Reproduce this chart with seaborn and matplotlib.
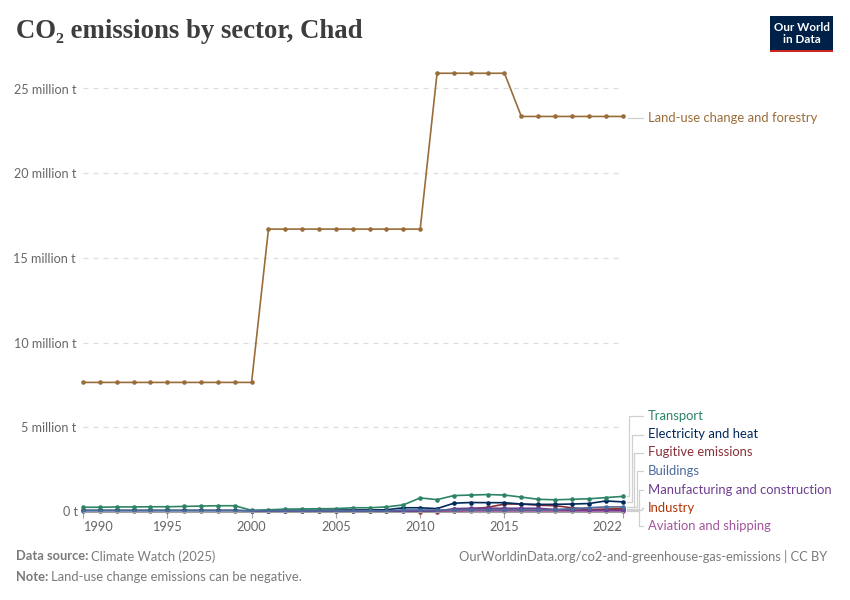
import matplotlib.pyplot as plt
from matplotlib.patches import Rectangle
import pandas as pd
import seaborn as sns

years = list(range(1990, 2023))
nan = float("nan")

# million tonnes
lucf = [7.65] * 11 + [16.7] * 10 + [25.9] * 5 + [23.35] * 7
transport = [0.28, 0.28, 0.30, 0.30, 0.31, 0.31, 0.33, 0.35, 0.37, 0.37, 0.10, 0.13, 0.17, 0.18, 0.19, 0.20,
             0.25, 0.25, 0.30, 0.42, 0.83, 0.73, 0.97, 1.00, 1.03, 1.00, 0.88, 0.75, 0.72, 0.75, 0.78, 0.85, 0.92]
electricity = [0.10] * 10 + [0.07, 0.08, 0.10, 0.10, 0.10, 0.11, 0.12, 0.12, 0.13, 0.25,
               0.25, 0.20, 0.52, 0.56, 0.55, 0.55, 0.47, 0.45, 0.45, 0.47, 0.50, 0.65, 0.60]
fugitive = [nan] * 22 + [0.15, 0.20, 0.27, 0.47, 0.47, 0.40, 0.37, 0.25, 0.15, 0.15, 0.15]
buildings = [0.07] * 19 + [0.12] * 9 + [0.14, 0.20, 0.25, 0.30, 0.30]
manufacturing = [nan] * 10 + [0.05] * 12 + [0.20, 0.22, 0.22, 0.22, 0.22, 0.22, 0.15, 0.10, 0.10, 0.10, 0.10]
industry = [nan] * 20 + [0.01, 0.01, 0.03, 0.10, 0.10, 0.10, 0.10, 0.10, 0.10, 0.10, 0.12, 0.17, 0.20]
aviation = [nan] * 10 + [0.05] * 23

series = {
    "Industry": industry,
    "Fugitive emissions": fugitive,
    "Electricity and heat": electricity,
    "Transport": transport,
    "Aviation and shipping": aviation,
    "Manufacturing and construction": manufacturing,
    "Buildings": buildings,
    "Land-use change and forestry": lucf,
}
colors = {
    "Land-use change and forestry": "#996D39",
    "Transport": "#2C8465",
    "Electricity and heat": "#00295B",
    "Fugitive emissions": "#883039",
    "Buildings": "#4C6A9C",
    "Manufacturing and construction": "#6D3E91",
    "Industry": "#B13507",
    "Aviation and shipping": "#A2559C",
}
y_ticks = [5, 10, 15, 20, 25]
y_labels = ["5 million t", "10 million t", "15 million t", "20 million t", "25 million t"]
x_ticks = [1990, 1995, 2000, 2005, 2010, 2015, 2022]

df = pd.DataFrame([
    {"year": y, "sector": name, "value": v}
    for name, vals in series.items() for y, v in zip(years, vals)
]).dropna()

W, H = 850, 600
plt.rcParams["font.family"] = ["Lato", "DejaVu Sans"]
fig = plt.figure(figsize=(W / 100, H / 100), dpi=100)
top_px, bottom_px, left_px, right_px = 70, 512, 83, 622.5
ax = fig.add_axes([left_px / W, 1 - bottom_px / H, (right_px - left_px) / W, (bottom_px - top_px) / H])

sns.lineplot(data=df, x="year", y="value", hue="sector", hue_order=list(series), palette=colors,
             marker="o", markersize=3.3, markeredgewidth=0, linewidth=1.2, legend=False,
             clip_on=False, ax=ax)

ax.set_xlim(1990, 2022)
ax.set_ylim(0, (bottom_px - top_px) / 16.94)
ax.set_xlabel("")
ax.set_ylabel("")
for s in ["top", "right", "left"]:
    ax.spines[s].set_visible(False)
ax.spines["bottom"].set_color("#a1a1a1")
ax.spines["bottom"].set_linewidth(0.8)
ax.set_axisbelow(True)

ax.set_yticks(y_ticks)
ax.set_yticklabels(y_labels, fontsize=9.1, color="#666666")
ax.tick_params(axis="y", length=0, pad=5)
ax.grid(axis="y", color="#dddddd", linewidth=0.9, linestyle=(0, (4, 4)))
ax.text(-5 / (right_px - left_px), 0, "0 t", transform=ax.get_yaxis_transform(), ha="right", va="center",
        fontsize=9.1, color="#666666")

ax.set_xticks(x_ticks)
ax.set_xticklabels([str(x) for x in x_ticks], fontsize=9.2, color="#666666")
ax.tick_params(axis="x", length=4, width=0.8, color="#a1a1a1", pad=2.5)
tl = ax.get_xticklabels()
tl[0].set_ha("left")
tl[-1].set_ha("right")


def fx(px):
    return px / W


def fy(py):
    return 1 - py / H


# labels with connectors: name, label y px, line end y px, elbow x px
labels = [
    ("Land-use change and forestry", 118, 118, 635),
    ("Transport", 416, 496, 629),
    ("Electricity and heat", 434.5, 502, 631.5),
    ("Fugitive emissions", 452.5, 507, 634),
    ("Buildings", 471, 507, 636.5),
    ("Manufacturing and construction", 489.5, 509, 639),
    ("Industry", 507.5, 510, 641.5),
    ("Aviation and shipping", 526, 511, 639),
]
for name, ly, ey, ex in labels:
    fig.text(fx(648), fy(ly), name, color=colors[name], fontsize=9.37, ha="left", va="center")
    if ly == ey:
        pts = [(628, ly), (643, ly)]
    else:
        pts = [(627, ey), (ex, ey), (ex, ly), (643, ly)]
    fig.add_artist(plt.Line2D([fx(p[0]) for p in pts], [fy(p[1]) for p in pts], color="#d0d0d0", linewidth=0.9))

# title, footer
fig.text(fx(16), fy(32), "CO₂ emissions by sector, Chad", fontsize=19.3, fontweight="bold", color="#3d3d3d",
         family=["Liberation Serif", "DejaVu Serif"], ha="left", va="center")
fig.text(fx(16), fy(556.5), "Data source:", fontsize=9.3, fontweight="bold", color="#7a7a7a", ha="left", va="center")
fig.text(fx(91), fy(556.5), "Climate Watch (2025)", fontsize=9.3, color="#7a7a7a", ha="left", va="center")
fig.text(fx(16), fy(577), "Note:", fontsize=9.3, fontweight="bold", color="#7a7a7a", ha="left", va="center")
fig.text(fx(51), fy(577), "Land-use change emissions can be negative.", fontsize=9.4, color="#7a7a7a", ha="left", va="center")
fig.text(fx(827), fy(556.5), "OurWorldinData.org/co2-and-greenhouse-gas-emissions | CC BY", fontsize=9.3, color="#7a7a7a",
         ha="right", va="center")

# logo
fig.add_artist(Rectangle((fx(770), fy(52)), 63 / W, 36 / H, transform=fig.transFigure, facecolor="#002147", edgecolor="none"))
fig.add_artist(Rectangle((fx(770), fy(52)), 63 / W, 2.5 / H, transform=fig.transFigure, facecolor="#CE261E", edgecolor="none"))
fig.text(fx(801.5), fy(27.5), "Our World", color="white", fontsize=8.4, fontweight="bold", ha="center", va="center")
fig.text(fx(801.5), fy(39.5), "in Data", color="white", fontsize=8.4, fontweight="bold", ha="center", va="center")

fig.savefig("out.png", dpi=100)
